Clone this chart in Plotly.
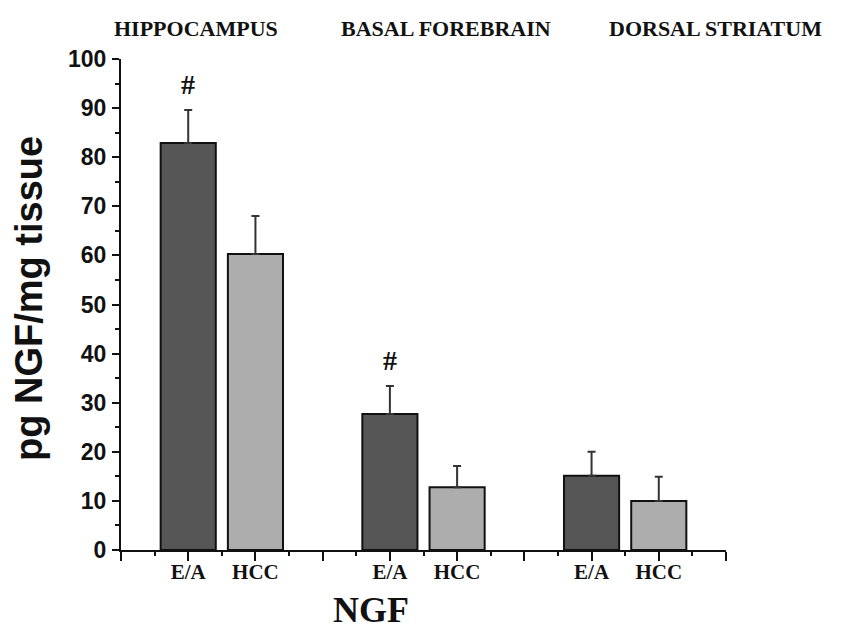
import plotly.graph_objects as go

# ---- data ----
regions = ["HIPPOCAMPUS", "BASAL FOREBRAIN", "DORSAL STRIATUM"]
groups = ["E/A", "HCC"]
ea_pos = [1, 4, 7]
hcc_pos = [2, 5, 8]
ea_mean = [82.9, 27.7, 15.1]
ea_err = [6.7, 5.7, 4.9]
hcc_mean = [60.3, 12.8, 10.0]
hcc_err = [7.7, 4.3, 4.9]
sig_ea = [True, True, False]   # "#" markers
y_ticks = [0, 10, 20, 30, 40, 50, 60, 70, 80, 90, 100]

SERIF = "Liberation Serif"
SANS = "Liberation Sans"

fig = go.Figure()
fig.add_trace(go.Bar(
    x=ea_pos, y=ea_mean, width=0.82,
    marker=dict(color="#565656", line=dict(color="#111111", width=2)),
    error_y=dict(type="data", array=ea_err, arrayminus=[0]*len(ea_err), symmetric=False,
                 color="#333333", thickness=2, width=4),
    name="E/A", showlegend=False))
fig.add_trace(go.Bar(
    x=hcc_pos, y=hcc_mean, width=0.82,
    marker=dict(color="#adadad", line=dict(color="#111111", width=2)),
    error_y=dict(type="data", array=hcc_err, arrayminus=[0]*len(hcc_err), symmetric=False,
                 color="#333333", thickness=2, width=4),
    name="HCC", showlegend=False))

tickvals = list(range(0, 10))
ticktext = [""] * 10
for p in ea_pos:
    ticktext[p] = "E/A"
for p in hcc_pos:
    ticktext[p] = "HCC"

annotations = []
# region labels
region_x = [1.11, 4.83, 8.85]
for name, xc in zip(regions, region_x):
    annotations.append(dict(x=xc, xref="x", y=(542 - 20) / 491, yref="paper", text=name,
                            showarrow=False,
                            font=dict(family=SERIF, size=22, color="#111", weight="bold"),
                            xanchor="center", yanchor="middle"))
# significance markers
for p, m, e, s in zip(ea_pos, ea_mean, ea_err, sig_ea):
    if s:
        annotations.append(dict(x=p, y=m + e, xref="x", yref="y", text="#",
                                showarrow=False, yanchor="bottom", yshift=8,
                                font=dict(family=SERIF, size=28, color="#111", weight="bold")))
# axis titles
annotations.append(dict(x=(363 - 113) / 605, y=(542 - 602) / 491, xref="paper", yref="paper",
                        text="NGF", showarrow=False,
                        font=dict(family=SERIF, size=36, color="#111", weight="bold"),
                        xanchor="center", yanchor="middle"))
annotations.append(dict(x=(21 - 113) / 605, y=(542 - 291) / 491, xref="paper", yref="paper",
                        text="pg NGF/mg tissue", showarrow=False, textangle=-90,
                        font=dict(family=SANS, size=38, color="#111", weight="bold"),
                        xanchor="center", yanchor="middle"))

fig.update_layout(
    width=843, height=629,
    margin=dict(l=113, r=125, t=51, b=87),
    plot_bgcolor="white", paper_bgcolor="white",
    barmode="overlay",
    annotations=annotations,
    xaxis=dict(range=[0, 9], tickvals=tickvals, ticktext=ticktext,
               ticks="outside", ticklen=9, tickwidth=2, tickcolor="#111",
               showline=True, linecolor="#111", linewidth=2,
               showgrid=False, zeroline=False,
               ticklabelstandoff=-7,
               tickfont=dict(family=SERIF, size=21, color="#111", weight="bold"),
               minor=dict(dtick=0.5, tick0=0, ticks="outside", ticklen=4,
                          tickwidth=2, tickcolor="#111", showgrid=False)),
    yaxis=dict(range=[0, 100], tickvals=y_ticks,
               ticks="outside", ticklen=7, tickwidth=2, tickcolor="#111",
               showline=True, linecolor="#111", linewidth=2,
               showgrid=False, zeroline=False,
               ticklabelstandoff=1,
               tickfont=dict(family=SANS, size=23, color="#111", weight="bold"),
               minor=dict(dtick=5, tick0=0, ticks="outside", ticklen=4,
                          tickwidth=2, tickcolor="#111", showgrid=False)),
)

fig.write_html("out.html")
